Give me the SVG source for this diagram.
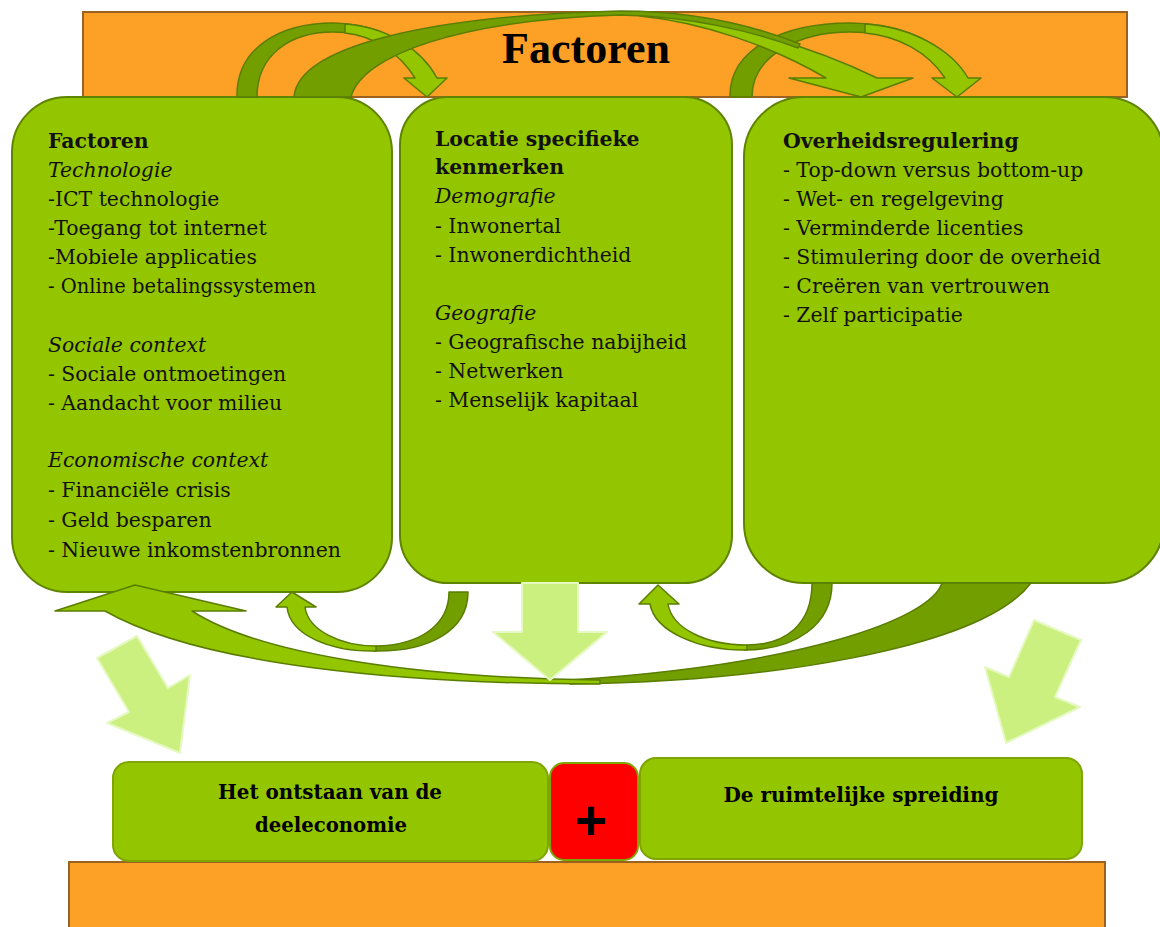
<svg xmlns="http://www.w3.org/2000/svg" width="1160" height="927" viewBox="0 0 1160 927">
<style>
.orange{fill:#fca126;stroke:#9a6121;stroke-width:2}
.box{fill:#94c600;stroke:#5f8400;stroke-width:2}
.sbox{fill:#94c600;stroke:#7ea500;stroke-width:2}
.dark{fill:#739e00;stroke:#5a7d00;stroke-width:1.5;stroke-linejoin:round}
.light{fill:#94c600;stroke:#5a7d00;stroke-width:1.5;stroke-linejoin:round}
.pale{fill:#ccf080;stroke:#e6f9c2;stroke-width:2;stroke-linejoin:round}
.t{font-family:"DejaVu Serif",serif;font-size:20.4px;fill:#111}
.b{font-weight:bold}
.i{font-style:italic}
.lab{font-family:"DejaVu Serif",serif;font-weight:bold;font-size:20px;fill:#000;text-anchor:middle}
</style>
<rect width="1160" height="927" fill="#fff"/>
<g id="banner-top">
<rect class="orange" x="83" y="12" width="1044" height="85"/>
<text x="586" y="63" font-family="Liberation Serif, serif" font-weight="bold" font-size="44" text-anchor="middle" fill="#000">Factoren</text>
</g>
<g id="banner-bottom">
<rect class="orange" x="69" y="862" width="1036" height="75"/>
</g>
<g id="box-factoren">
<rect class="box" x="12" y="97" width="380" height="495" rx="55"/>
<text class="t" x="48"><tspan class="b" y="148">Factoren</tspan><tspan class="i" x="48" y="177">Technologie</tspan><tspan x="48" y="206">-ICT technologie</tspan><tspan x="48" y="235">-Toegang tot internet</tspan><tspan x="48" y="264">-Mobiele applicaties</tspan><tspan x="48" y="293" font-size="19.5">- Online betalingssystemen</tspan><tspan class="i" x="48" y="352">Sociale context</tspan><tspan x="48" y="381">- Sociale ontmoetingen</tspan><tspan x="48" y="410">- Aandacht voor milieu</tspan><tspan class="i" x="48" y="467">Economische context</tspan><tspan x="48" y="497">- Financiële crisis</tspan><tspan x="48" y="527">- Geld besparen</tspan><tspan x="48" y="557">- Nieuwe inkomstenbronnen</tspan></text>
</g>
<g id="box-locatie">
<rect class="box" x="400" y="97" width="332" height="486" rx="48"/>
<text class="t" x="435"><tspan class="b" y="146">Locatie specifieke</tspan><tspan class="b" x="435" y="174">kenmerken</tspan><tspan class="i" x="435" y="203">Demografie</tspan><tspan x="435" y="233">- Inwonertal</tspan><tspan x="435" y="262">- Inwonerdichtheid</tspan><tspan class="i" x="435" y="320">Geografie</tspan><tspan x="435" y="349">- Geografische nabijheid</tspan><tspan x="435" y="378">- Netwerken</tspan><tspan x="435" y="407">- Menselijk kapitaal</tspan></text>
</g>
<g id="box-overheid">
<rect class="box" x="744" y="97" width="420" height="486" rx="60"/>
<text class="t" x="783"><tspan class="b" y="148">Overheidsregulering</tspan><tspan x="783" y="177">- Top-down versus bottom-up</tspan><tspan x="783" y="206">- Wet- en regelgeving</tspan><tspan x="783" y="235">- Verminderde licenties</tspan><tspan x="783" y="264">- Stimulering door de overheid</tspan><tspan x="783" y="293">- Creëren van vertrouwen</tspan><tspan x="783" y="322">- Zelf participatie</tspan></text>
</g>
<g id="connectors">
<path class="dark" d="M237,97 C236,48 280,23 333,23 C370,23 400,38 418,58 L412,64 C395,45 368,32 333,32 C290,32 257,55 257,97 Z"/>
<path class="light" d="M345,24 C388,27 422,50 437,78 L447,78 L427,97 L404,78 L415,78 C400,54 375,36 345,33 Z"/>
<path class="dark" d="M730,97 C729,48 785,23 850,23 C895,23 930,38 950,58 L944,64 C925,45 893,32 850,32 C800,32 752,55 752,97 Z"/>
<path class="light" d="M865,24 C912,27 952,50 968,78 L981,78 L957,97 L932,78 L945,78 C928,52 898,36 865,33 Z"/>
<path class="light" d="M640,14 C730,20 820,50 877,78 L913,78 L861,97 L789,78 L826,78 C770,45 700,22 640,16 Z"/>
<path class="dark" d="M294,97 C298,48 420,16 620,11 C700,11 760,28 800,44 L798,48 C755,32 690,16 620,15 C460,20 362,55 351,97 Z"/>
<path class="dark" d="M570,684 C760,682 980,650 1031,583 L942,583 C930,620 800,665 570,680 Z"/>
<path class="light" d="M105,611 C200,665 400,684 600,684 L600,680 C420,678 260,655 192,611 L246,611 L135,585 L55,611 Z"/>
<path class="dark" d="M449,592 L468,592 C468,630 430,652 374,651 L376,646 C420,645 449,625 449,592 Z"/>
<path class="light" d="M376,651 C330,652 290,635 287,607 L276,607 L292,592 L316,607 L305,607 C308,630 340,646 376,646 Z"/>
<path class="dark" d="M812,583 L832,583 C832,625 795,650 745,650 L747,645 C785,645 812,625 812,583 Z"/>
<path class="light" d="M747,650 C700,651 655,632 650,604 L639,604 L658,585 L679,604 L668,604 C672,628 705,645 747,645 Z"/>
<polygon class="pale" points="522,583 578,583 578,632 607,632 550,680 493,632 522,632"/>
<polygon class="pale" points="97,658 137,636 168,688 190,675 180,753 107,723 129,712"/>
<polygon class="pale" points="1034,620 1081,640 1055,697 1080,707 1006,743 985,667 1009,677"/>
</g>
<g id="node-ontstaan">
<rect class="sbox" x="113" y="762" width="435" height="99" rx="16"/>
<text class="lab" x="330" y="799" textLength="224" lengthAdjust="spacingAndGlyphs">Het ontstaan van de</text>
<text class="lab" x="331" y="832" textLength="152" lengthAdjust="spacingAndGlyphs">deeleconomie</text>
</g>
<g id="node-plus">
<rect x="550" y="763" width="88" height="97" rx="14" fill="#ff0000" stroke="#7ea500" stroke-width="2"/>
<text x="591" y="839" font-family="Liberation Sans, sans-serif" font-weight="bold" font-size="56" text-anchor="middle" fill="#000">+</text>
</g>
<g id="node-spreiding">
<rect class="sbox" x="640" y="758" width="442" height="101" rx="16"/>
<text class="lab" x="861" y="802" font-size="19" textLength="275" lengthAdjust="spacingAndGlyphs">De ruimtelijke spreiding</text>
</g>
</svg>
